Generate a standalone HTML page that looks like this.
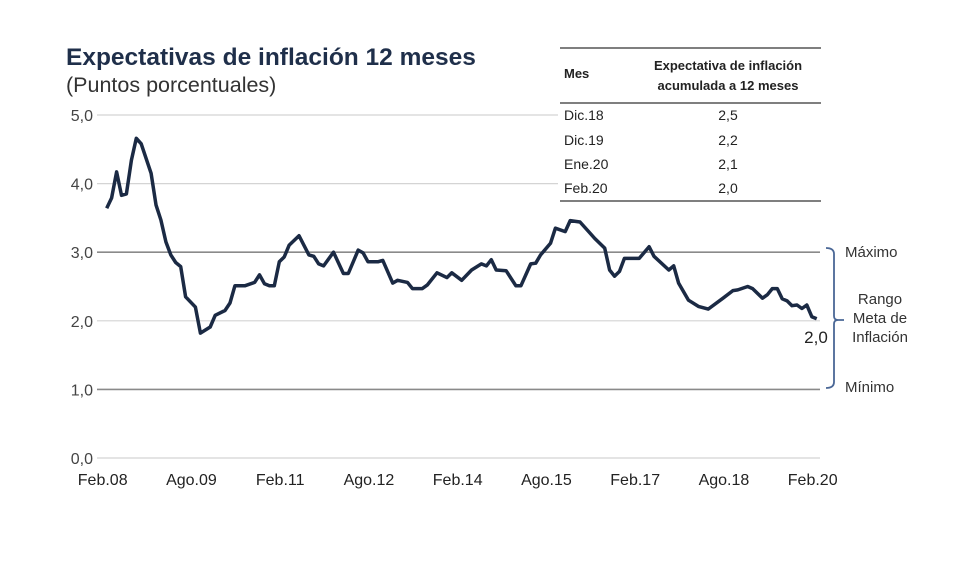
<!DOCTYPE html>
<html><head><meta charset="utf-8"><style>
body{margin:0;background:#fff;}
svg text{font-family:"Liberation Sans",sans-serif;}
</style></head><body>
<svg width="980" height="579" viewBox="0 0 980 579" xmlns="http://www.w3.org/2000/svg">
<rect width="980" height="579" fill="#fff"/>
<text x="66" y="65" font-size="24.5" font-weight="bold" fill="#1f2f4a">Expectativas de inflación 12 meses</text>
<text x="66" y="92" font-size="21.5" fill="#333">(Puntos porcentuales)</text>
<g id="grid"></g>
<g id="yticks"></g>
<g id="xticks"></g>
<path id="line" fill="none" stroke="#1b2a44" stroke-width="3.5" stroke-linejoin="round"/>
<g>
<rect x="558" y="46" width="266" height="156" fill="#fff"/>
<line x1="560" y1="48" x2="821" y2="48" stroke="#333" stroke-width="1.2"/>
<line x1="560" y1="103" x2="821" y2="103" stroke="#333" stroke-width="1.2"/>
<line x1="560" y1="201" x2="821" y2="201" stroke="#333" stroke-width="1.2"/>
<text x="564" y="78" font-size="13" font-weight="bold" fill="#222">Mes</text>
<text x="728" y="70" font-size="13" font-weight="bold" fill="#222" text-anchor="middle">Expectativa de inflación</text>
<text x="728" y="90" font-size="13" font-weight="bold" fill="#222" text-anchor="middle">acumulada a 12 meses</text>
<g font-size="14" fill="#222">
<text x="564" y="120">Dic.18</text><text x="728" y="120" text-anchor="middle">2,5</text>
<text x="564" y="145">Dic.19</text><text x="728" y="145" text-anchor="middle">2,2</text>
<text x="564" y="169">Ene.20</text><text x="728" y="169" text-anchor="middle">2,1</text>
<text x="564" y="193">Feb.20</text><text x="728" y="193" text-anchor="middle">2,0</text>
</g></g>
<text x="816" y="343" font-size="17" fill="#222" text-anchor="middle">2,0</text>
<path d="M826,248 Q834,248 834,254 L834,316 Q834,320 838,320 M838,320 Q834,320 834,324 L834,382 Q834,388 826,388 M838,320 L844,320" fill="none" stroke="#4a6796" stroke-width="1.8"/>
<g font-size="15" fill="#333">
<text x="845" y="257">Máximo</text>
<text x="880" y="304" text-anchor="middle">Rango</text>
<text x="880" y="323" text-anchor="middle">Meta de</text>
<text x="880" y="342" text-anchor="middle">Inflación</text>
<text x="845" y="392">Mínimo</text>
</g>
</svg>
<script>
const months=[0,1,2,3,4,5,6,7,9,10,11,12,13,14,15,16,18,19,21,22,24,25,26,28,30,31,32,33,34,35,36,37,39,41,42,43,44,46,48,49,51,52,53,55,56,58,59,61,62,64,65,67,69,70,72,74,76,77,78,79,81,83,84,86,87,88,90,91,93,94,96,98,99,101,102,103,104,105,108,110,111,114,115,116,118,120,122,125,127,128,130,131,133,134,135,136,137,138,139,140,141,142,143,144];
const values=[3.64,3.79,4.17,3.83,3.85,4.34,4.66,4.58,4.15,3.69,3.47,3.15,2.96,2.85,2.79,2.35,2.2,1.82,1.91,2.08,2.15,2.26,2.51,2.51,2.56,2.67,2.54,2.51,2.51,2.86,2.93,3.1,3.24,2.96,2.94,2.83,2.8,3.0,2.69,2.69,3.03,2.99,2.86,2.86,2.88,2.55,2.59,2.56,2.47,2.47,2.52,2.7,2.63,2.7,2.59,2.74,2.83,2.8,2.89,2.74,2.73,2.51,2.51,2.83,2.84,2.96,3.13,3.35,3.3,3.46,3.44,3.28,3.2,3.06,2.74,2.65,2.72,2.91,2.91,3.08,2.94,2.74,2.8,2.55,2.3,2.21,2.17,2.33,2.44,2.45,2.5,2.47,2.33,2.38,2.47,2.47,2.32,2.29,2.22,2.23,2.18,2.23,2.06,2.03];
const yTicks=[0,1,2,3,4,5];
const yTickLabels=["0,0","1,0","2,0","3,0","4,0","5,0"];
const xTickMonths=[0,18,36,54,72,90,108,126,144];
const xTickLabels=["Feb.08","Ago.09","Feb.11","Ago.12","Feb.14","Ago.15","Feb.17","Ago.18","Feb.20"];
const NS="http://www.w3.org/2000/svg";
const xs=m=>106.7+m*(710/144);
const ys=v=>458-v*68.6;
const grid=document.getElementById('grid'),yt=document.getElementById('yticks'),xt=document.getElementById('xticks');
yTicks.forEach((v,i)=>{
 const l=document.createElementNS(NS,'line');
 l.setAttribute('x1',97);l.setAttribute('x2',820);l.setAttribute('y1',ys(v));l.setAttribute('y2',ys(v));
 l.setAttribute('stroke',(v===1||v===3)?'#8a8a8a':'#d4d4d4');l.setAttribute('stroke-width',(v===1||v===3)?1.6:1.2);
 
 
 grid.appendChild(l);
 const t=document.createElementNS(NS,'text');
 t.setAttribute('x',93);t.setAttribute('y',ys(v)+6);t.setAttribute('text-anchor','end');t.setAttribute('font-size',16);t.setAttribute('fill','#444');
 t.textContent=yTickLabels[i];
 
 
 yt.appendChild(t);
});
xTickMonths.forEach((m,i)=>{
 const t=document.createElementNS(NS,'text');
 t.setAttribute('x',xs(m)-4);t.setAttribute('y',485);t.setAttribute('text-anchor','middle');t.setAttribute('font-size',16);t.setAttribute('fill','#222');
 t.textContent=xTickLabels[i];
 
 
 xt.appendChild(t);
});
document.getElementById('line').setAttribute('d',months.map((m,i)=>(i?'L':'M')+xs(m).toFixed(1)+','+ys(values[i]).toFixed(1)).join(''));
</script>
</body></html>
